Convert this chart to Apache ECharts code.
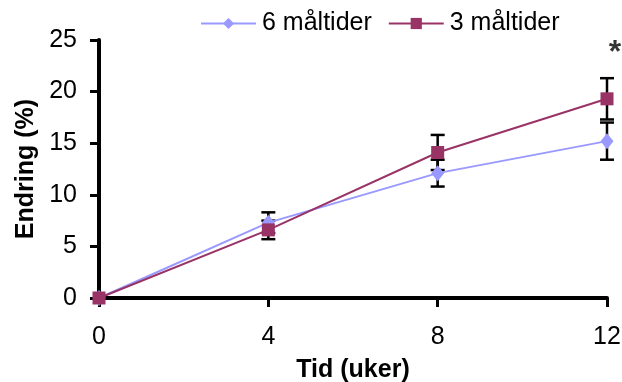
<!DOCTYPE html>
<html>
<head>
<meta charset="utf-8">
<script src="https://cdn.jsdelivr.net/npm/echarts@6/dist/echarts.min.js"></script>
<style>html,body{margin:0;padding:0;background:#fff}#c{width:622px;height:382px}</style>
</head>
<body>
<div id="c"></div>
<script>
const weeks = [0, 4, 8, 12];
const sixMeals = [0, 7.3, 12.1, 15.2];
const sixMealsErr = [0, 1.0, 1.3, 1.8];
const threeMeals = [0, 6.6, 14.1, 19.3];
const threeMealsErr = [0, 0.9, 1.7, 2.0];
const seriesNames = ['6 måltider', '3 måltider'];
const yTicks = [0, 5, 10, 15, 20, 25];
const starNote = '*';

const font = 'Liberation Sans, Arial, sans-serif';
const fs = 25;

function errData(vals, errs) {
  return weeks.map((w, i) => [w, vals[i] - errs[i], vals[i] + errs[i]]).filter((d, i) => errs[i] > 0);
}
function renderErr(params, api) {
  const x = api.value(0);
  const lo = api.coord([x, api.value(1)]);
  const hi = api.coord([x, api.value(2)]);
  const hw = 7;
  const style = { stroke: '#000', lineWidth: 2.5 };
  return {
    type: 'group',
    children: [
      { type: 'line', shape: { x1: lo[0], y1: lo[1], x2: hi[0], y2: hi[1] }, style },
      { type: 'line', shape: { x1: lo[0] - hw, y1: lo[1], x2: lo[0] + hw, y2: lo[1] }, style },
      { type: 'line', shape: { x1: hi[0] - hw, y1: hi[1], x2: hi[0] + hw, y2: hi[1] }, style }
    ]
  };
}

const chart = echarts.init(document.getElementById('c'), null, { renderer: 'canvas' });
chart.setOption({
  animation: false,
  backgroundColor: '#fff',
  textStyle: { fontFamily: font },
  legend: {
    data: seriesNames,
    top: 11,
    left: 200,
    padding: 0,
    itemWidth: 55,
    itemHeight: 14,
    itemGap: 16,
    textStyle: { fontSize: fs, color: '#000', fontFamily: font, padding: [0, 0, 0, 1] }
  },
  grid: { left: 99, right: 15, top: 40, bottom: 84, containLabel: false, outerBoundsMode: 'none' },
  xAxis: {
    type: 'value', min: 0, max: 12, interval: 4,
    name: 'Tid (uker)', nameLocation: 'middle', nameGap: 60,
    nameTextStyle: { fontSize: fs, fontWeight: 'bold', color: '#000', fontFamily: font },
    axisLine: { lineStyle: { color: '#000', width: 4 } },
    axisTick: { show: true, length: 9, lineStyle: { color: '#000', width: 3 } },
    axisLabel: { fontSize: fs, color: '#000', margin: 27, fontFamily: font },
    splitLine: { show: false }
  },
  yAxis: {
    type: 'value', min: yTicks[0], max: yTicks[yTicks.length - 1], interval: 5,
    name: 'Endring (%)', nameLocation: 'middle', nameGap: 55,
    nameTextStyle: { fontSize: fs, fontWeight: 'bold', color: '#000', fontFamily: font },
    axisLine: { show: true, lineStyle: { color: '#000', width: 4 } },
    axisTick: { show: true, length: 9, lineStyle: { color: '#000', width: 3 } },
    axisLabel: { fontSize: fs, color: '#000', margin: 22, fontFamily: font },
    splitLine: { show: false }
  },
  series: [
    { type: 'custom', name: 'err6', data: errData(sixMeals, sixMealsErr), renderItem: renderErr, z: 1, silent: true },
    { type: 'custom', name: 'err3', data: errData(threeMeals, threeMealsErr), renderItem: renderErr, z: 1, silent: true },
    {
      name: seriesNames[0], type: 'line', data: weeks.map((w, i) => [w, sixMeals[i]]),
      symbol: 'diamond', symbolSize: [13, 16], z: 3,
      lineStyle: { color: '#9999FF', width: 2 },
      itemStyle: { color: '#9999FF', borderWidth: 0 }
    },
    {
      name: seriesNames[1], type: 'line', data: weeks.map((w, i) => [w, threeMeals[i]]),
      symbol: 'rect', symbolSize: 13, z: 4,
      lineStyle: { color: '#993366', width: 2 },
      itemStyle: { color: '#993366', borderWidth: 0 }
    },
    {
      type: 'scatter', name: 'star', data: [[12, 24.2]], symbolSize: 0, silent: true,
      label: { show: true, formatter: starNote, position: 'inside', offset: [8, 5], fontSize: 32, fontWeight: 'bold', color: '#000', fontFamily: font }
    }
  ]
});
</script>
</body>
</html>
